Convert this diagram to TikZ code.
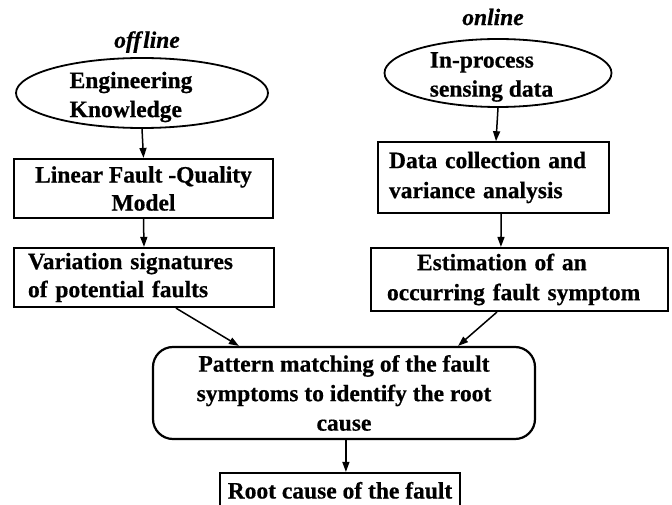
\documentclass[tikz,border=0pt]{standalone}
\usepackage{fontspec}
\setmainfont{Liberation Serif}[BoldFeatures={FakeBold=0.6},BoldItalicFeatures={FakeBold=0.6}]
\usetikzlibrary{arrows.meta,shapes.geometric}
\begin{document}
\begin{tikzpicture}[x=1pt,y=-1pt,
  every node/.style={font=\fontsize{23.5}{29}\selectfont\bfseries, inner sep=0pt},
  boxnode/.style={draw, line width=2.2pt, rectangle},
  ellnode/.style={draw, ellipse, line width=1.8pt},
  tag/.style={font=\fontsize{23.5}{29}\selectfont\bfseries\itshape},
  arr/.style={line width=1.5pt, -{Triangle[length=10pt,width=7pt]}},
]
\useasboundingbox (0,0) rectangle (672,505);
\clip (0,0) rectangle (672,505);

% labels
\node[tag] (off) at (147,42) {off\kern2pt line};
\node[tag] (on) at (493,17) {online};

% left column
\node[ellnode, minimum width=252pt, minimum height=70pt] (E) at (142,93) {};
\node[align=left] (Et) at (131,97) {Engineering\\Knowledge};
\node[boxnode, minimum width=259pt, minimum height=59pt, align=center,
      font=\fontsize{23.5}{28}\selectfont\bfseries] (B1) at (143.5,188.5)
      {Linear Fault -Quality\\Model};
\node[boxnode, minimum height=59pt, inner xsep=14pt, text width=232pt, align=left,
      font=\fontsize{23.5}{28}\selectfont\bfseries] (B2) at (144,277.5)
      {Variation signatures\\of potential faults};

% right column
\node[ellnode, minimum width=227pt, minimum height=68pt] (I) at (498,73) {};
\node[align=left] (It) at (491.5,77) {In-process\\sensing data};
\node[boxnode, line width=1.6pt, minimum height=71pt, inner xsep=11pt, text width=209pt, align=left,
      font=\fontsize{23.5}{30}\selectfont\bfseries] (B3) at (493.5,177.5)
      {Data collection and\\variance analysis};
\node[boxnode, minimum height=63pt, inner xsep=16pt, text width=265pt, align=left,
      font=\fontsize{23.5}{30}\selectfont\bfseries] (B4) at (519.5,279.5)
      {\hspace*{30pt}Estimation of an\\occurring fault symptom};

% bottom
\node[boxnode, rounded corners=20pt, minimum width=382pt, minimum height=92pt, align=center,
      font=\fontsize{23.5}{29.5}\selectfont\bfseries] (P) at (344,393)
      {Pattern matching of the fault\\symptoms to identify the root\\cause};
\node[boxnode, minimum width=240pt, minimum height=34pt, text height=17pt, text depth=0pt] (R) at (340,490)
      {Root cause of the fault};

% connectors
\draw[arr] (E.south) -- (B1.north);
\draw[arr] (B1.south) -- (B2.north);
\draw[arr] (I.south) -- ([xshift=-2pt]I.south |- B3.north);
\draw[arr] ([xshift=124pt]B3.south west) -- ([xshift=131pt]B4.north west);
\draw[arr] ([xshift=163pt]B2.south west) -- ([xshift=87pt]P.north west);
\draw[arr] ([xshift=127pt]B4.south west) -- ([xshift=-78pt]P.north east);
\draw[arr] ([xshift=194pt]P.south west) -- ([xshift=127pt]R.north west);
\end{tikzpicture}
\end{document}
